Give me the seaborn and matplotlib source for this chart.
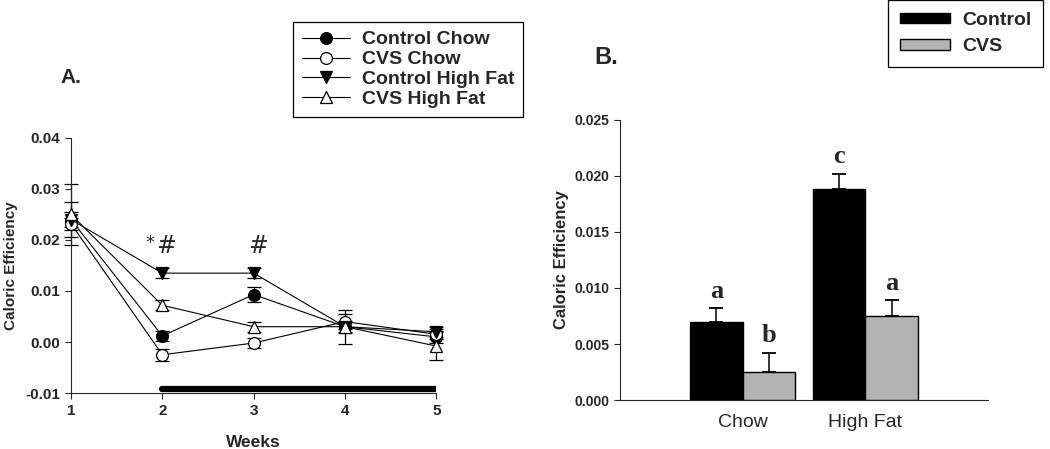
import numpy as np
import pandas as pd
import seaborn as sns
import matplotlib
matplotlib.use("Agg")
import matplotlib.pyplot as plt

# ---- Panel A data: weekly caloric efficiency (mean, SEM)
weeks = [1, 2, 3, 4, 5]
series_names = ["Control Chow", "CVS Chow", "Control High Fat", "CVS High Fat"]
control_chow = [0.0240, 0.0012, 0.0093, 0.0030, 0.0010]
control_chow_err = [0.0035, 0.0010, 0.0015, 0.0012, 0.0012]
cvs_chow = [0.0232, -0.0025, -0.0002, 0.0040, 0.0015]
cvs_chow_err = [0.0012, 0.0012, 0.0010, 0.0015, 0.0010]
control_hf = [0.0240, 0.0135, 0.0135, 0.0030, 0.0020]
control_hf_err = [0.0015, 0.0010, 0.0010, 0.0010, 0.0010]
cvs_hf = [0.0250, 0.0072, 0.0030, 0.0030, -0.0008]
cvs_hf_err = [0.0060, 0.0010, 0.0010, 0.0033, 0.0027]

# significance marks over weeks (* and # per week)
sig_weeks = [2, 3]
sig_star = [True, False]
sig_hash = [True, True]
sig_level = 0.0165
# stress period bar
stress_span = [2, 5]
stress_level = -0.0093

# ---- Panel B data: mean caloric efficiency by diet
diets = ["Chow", "High Fat"]
groups = ["Control", "CVS"]
control_means = [0.0070, 0.0188]
control_sem = [0.0012, 0.0014]
cvs_means = [0.0025, 0.0075]
cvs_sem = [0.0017, 0.0014]
letters_control = ["a", "c"]
letters_cvs = ["b", "a"]

sns.set_style("ticks")
plt.rcParams["font.family"] = ["Liberation Sans", "DejaVu Sans"]
plt.rcParams["axes.unicode_minus"] = False

fig = plt.figure(figsize=(10.5, 4.49), dpi=100)
axA = fig.add_axes([0.0676, 0.1247, 0.348, 0.568])
axB = fig.add_axes([0.5905, 0.109, 0.3505, 0.624])

# ---- Panel A
styles = [
    (control_chow, control_chow_err, "o", "black"),
    (cvs_chow, cvs_chow_err, "o", "white"),
    (control_hf, control_hf_err, "v", "black"),
    (cvs_hf, cvs_hf_err, "^", "white"),
]
handles = []
for name, (vals, errs, mk, face) in zip(series_names, styles):
    axA.errorbar(weeks, vals, yerr=errs, fmt="none", ecolor="black",
                 elinewidth=0.9, capsize=5, capthick=0.9, clip_on=False, zorder=2)
    sns.lineplot(x=weeks, y=vals, ax=axA, color="black", lw=0.8, marker=mk,
                 markersize=8.5, markerfacecolor=face, markeredgecolor="black",
                 markeredgewidth=0.9, clip_on=False, zorder=3)
    handles.append(axA.lines[-1])

axA.plot(stress_span, [stress_level] * 2, color="black", lw=4.5,
         solid_capstyle="round", zorder=2)
for wk, star, hsh in zip(sig_weeks, sig_star, sig_hash):
    if hsh:
        axA.annotate("#", (wk, sig_level), xytext=(3, 0),
                     textcoords="offset points", ha="center", va="bottom",
                     fontsize=17, family="DejaVu Sans")
    if star:
        axA.annotate("*", (wk, sig_level), xytext=(-9, 4),
                     textcoords="offset points", ha="center", va="bottom",
                     fontsize=13, family="DejaVu Sans")

axA.set_xlim(1, 5)
axA.set_ylim(-0.01, 0.04)
axA.set_xticks(weeks)
axA.set_yticks([-0.01, 0.0, 0.01, 0.02, 0.03, 0.04])
axA.set_yticklabels([f"{v:.2f}" for v in axA.get_yticks()])
axA.tick_params(axis="both", labelsize=11, width=0.8, length=4, pad=4)
for t in axA.get_xticklabels() + axA.get_yticklabels():
    t.set_fontweight("bold")
axA.set_xlabel("Weeks", fontsize=12.5, fontweight="bold", labelpad=12)
axA.set_ylabel("Caloric Efficiency", fontsize=11, fontweight="bold", labelpad=5)
sns.despine(ax=axA)
for sp in axA.spines.values():
    sp.set_linewidth(0.8)
axA.text(-0.03, 1.2, "A.", transform=axA.transAxes, fontsize=15,
         fontweight="bold", ha="left", va="bottom")

legA = fig.legend(handles, series_names, loc="upper left",
                  bbox_to_anchor=(293 / 1050, 1 - 22 / 449), borderaxespad=0,
                  fancybox=False, edgecolor="black", framealpha=1,
                  handlelength=2.5, prop={"weight": "bold", "size": 14},
                  borderpad=0.45, labelspacing=0.12, handletextpad=0.6)
legA.get_frame().set_linewidth(0.9)

# ---- Panel B
df = pd.DataFrame({
    "diet": diets * 2,
    "group": [groups[0]] * 2 + [groups[1]] * 2,
    "value": control_means + cvs_means,
})
sns.barplot(data=df, x="diet", y="value", hue="group", order=diets,
            hue_order=groups, palette={"Control": "black", "CVS": "#b3b3b3"},
            edgecolor="black", linewidth=1.0, width=0.86, gap=0,
            errorbar=None, ax=axB, legend=True)

bars = [p for p in axB.patches if p.get_height() > 0]
bars = sorted(bars, key=lambda p: p.get_x())
sems = [control_sem[0], cvs_sem[0], control_sem[1], cvs_sem[1]]
letters = [letters_control[0], letters_cvs[0], letters_control[1], letters_cvs[1]]
for p, e, lab in zip(bars, sems, letters):
    cx = p.get_x() + p.get_width() / 2
    top = p.get_height()
    axB.errorbar([cx], [top], yerr=[[0], [e]], fmt="none", ecolor="black",
                 elinewidth=1.1, capsize=5, capthick=1.3, zorder=1)
    axB.text(cx, top + e + 0.0005, lab, ha="center", va="bottom", fontsize=19,
             fontweight="bold", family="Liberation Serif")

axB.set_xlim(-1, 2)
axB.set_ylim(0, 0.025)
axB.set_yticks([0, 0.005, 0.010, 0.015, 0.020, 0.025])
axB.set_yticklabels([f"{v:.3f}" for v in axB.get_yticks()])
axB.tick_params(axis="y", labelsize=10, width=0.8, length=4)
axB.tick_params(axis="x", labelsize=14, length=0, pad=10)
for t in axB.get_yticklabels():
    t.set_fontweight("bold")
axB.set_xlabel("")
axB.set_ylabel("Caloric Efficiency", fontsize=12, fontweight="bold", labelpad=4)
sns.despine(ax=axB)
for sp in axB.spines.values():
    sp.set_linewidth(0.8)
axB.text(-0.07, 1.18, "B.", transform=axB.transAxes, fontsize=17,
         fontweight="bold", ha="left", va="bottom")

hB, lB = axB.get_legend_handles_labels()
axB.get_legend().remove()
legB = fig.legend(hB, lB, loc="upper right",
                  bbox_to_anchor=(1043 / 1050, 1.0), borderaxespad=0,
                  fancybox=False, edgecolor="black", framealpha=1,
                  handlelength=2.6, handleheight=0.45,
                  prop={"weight": "bold", "size": 14},
                  borderpad=0.6, labelspacing=0.5, handletextpad=0.6)
legB.get_frame().set_linewidth(0.9)

fig.savefig("out.png", dpi=100)
